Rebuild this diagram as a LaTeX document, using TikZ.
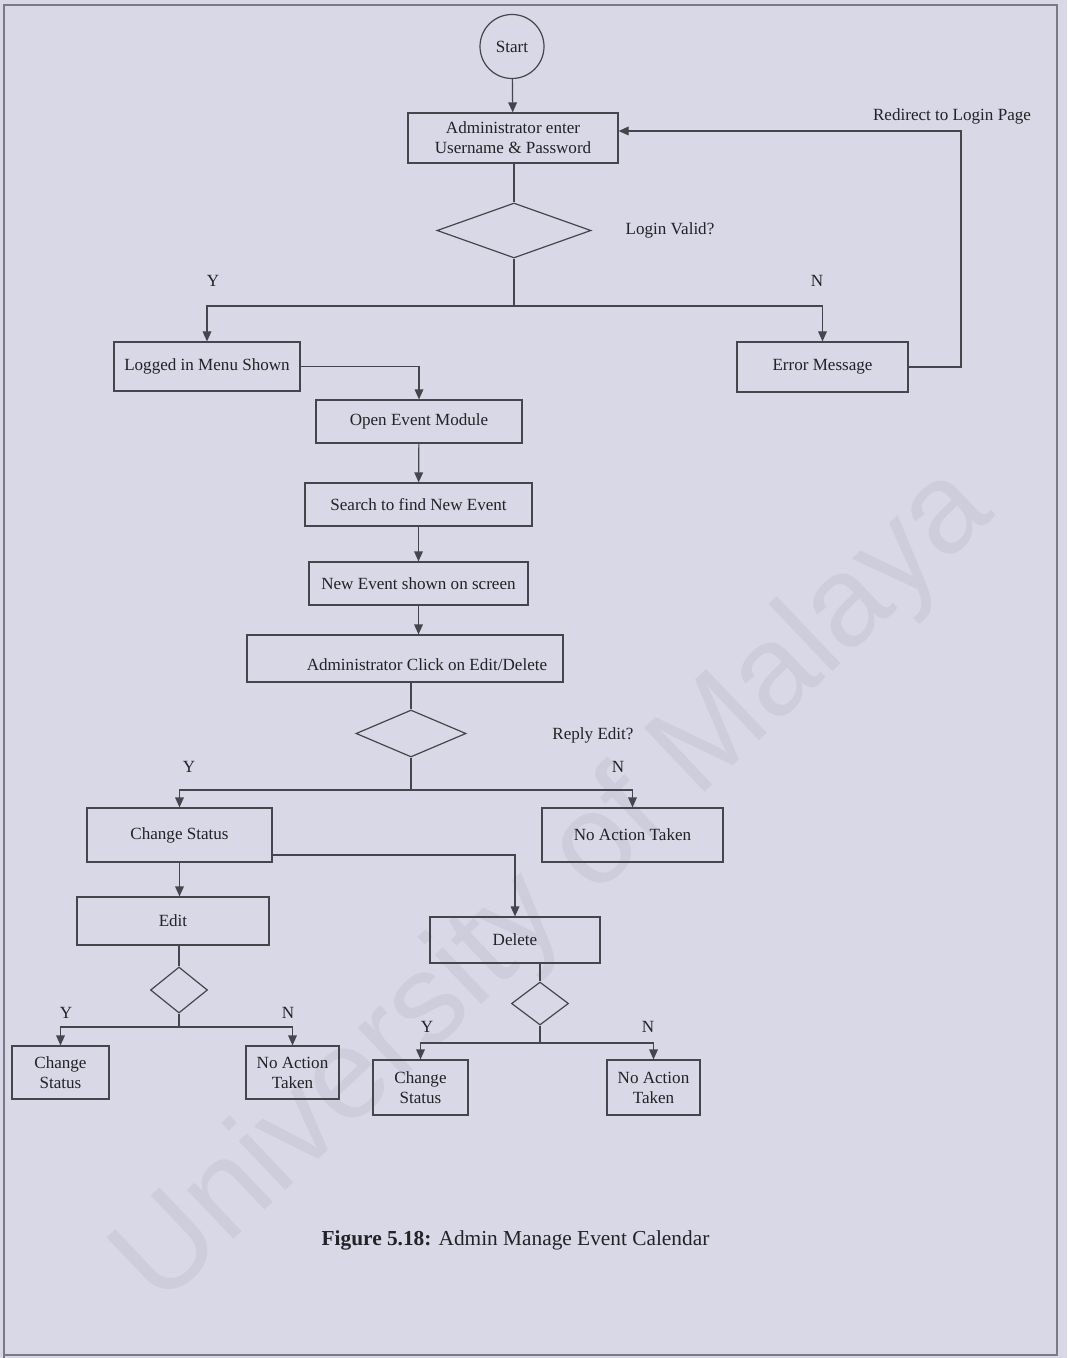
\documentclass[tikz,border=0pt]{standalone}
\usepackage{fontspec}
\setmainfont{Liberation Serif}
\newfontfamily\wmfont{Liberation Sans}
\usetikzlibrary{shapes.geometric,arrows.meta}
\definecolor{bgc}{HTML}{D8D8E6}
\definecolor{linec}{HTML}{45454D}
\definecolor{txtc}{HTML}{222228}
\definecolor{wmc}{HTML}{CDCDDB}
\definecolor{framec}{HTML}{7A7A86}
\tikzset{
  lbl/.style={font=\fontsize{12.8}{15}\selectfont, text=txtc, inner sep=0pt, align=center},
  bx/.style 2 args={draw=linec, line width=0.9pt, rectangle, inner sep=0pt,
     minimum width=#1*0.75pt, minimum height=#2*0.75pt,
     font=\fontsize{12.8}{15}\selectfont, text=txtc, align=center},
  dm/.style 2 args={draw=linec, line width=0.9pt, diamond, inner sep=0pt,
     minimum width=#1*0.75pt, minimum height=#2*0.75pt},
  ln/.style={draw=linec, line width=0.9pt},
  arr/.style={ln, -{Triangle[length=7.5pt,width=6.5pt]}},
}
\begin{document}
\begin{tikzpicture}[x=0.75pt,y=-0.75pt]
\useasboundingbox (0,0) rectangle (1067,1358);
\fill[bgc] (0,0) rectangle (1067,1358);
% frame
\draw[framec, line width=0.9pt] (4,1358) -- (4,5) -- (1057,5) -- (1057,1355) -- (4,1355);
% watermark
\node[font=\wmfont\fontsize{96}{96}\selectfont, text=wmc, rotate=43.5, inner sep=0pt] (wm) at (556,888) {University of Malaya};

% nodes
\node[draw=linec, line width=0.9pt, circle, minimum size=64*0.75pt, inner sep=0pt,
      font=\fontsize{12.8}{15}\selectfont, text=txtc] (start) at (512,46.5) {Start};
\node[bx={210}{50}] (admin) at (513,138) {Administrator enter\\Username \& Password};
\node[dm={154}{55}] (d1) at (514,230.5) {};
\node[lbl] (lv) at (670,230) {Login Valid?};
\node[lbl] (y1) at (213,281) {Y};
\node[lbl] (n1) at (817,281) {N};
\node[bx={186}{49}] (logged) at (207,366.5) {Logged in Menu Shown};
\node[bx={171}{50}] (err) at (822.5,367) {Error Message};
\node[lbl] (redir) at (952,116) {Redirect to Login Page};
\node[bx={206}{43}] (open) at (419,421.5) {Open Event Module};
\node[bx={227}{43}] (search) at (418.5,504.5) {Search to find New Event};
\node[bx={219}{43}] (newev) at (418.5,583.5) {New Event shown on screen};
\node[bx={316}{47}] (click) at (405,658.5) {};
\node[lbl] (clicktxt) at (427,665) {Administrator Click on Edit/Delete};
\node[dm={110}{47}] (d2) at (411,733.5) {};
\node[lbl] (re) at (593,735) {Reply Edit?};
\node[lbl] (y2) at (189,767) {Y};
\node[lbl] (n2) at (618,767) {N};
\node[bx={185}{54}] (cs) at (179.5,835) {Change Status};
\node[bx={181}{54}] (na) at (632.5,835) {No Action Taken};
\node[bx={192}{48}] (edit) at (173,921) {Edit};
\node[bx={170}{46}] (del) at (515,940) {Delete};
\node[dm={57}{46}] (sd1) at (179,990) {};
\node[dm={57}{43}] (sd2) at (540,1003.5) {};
\node[lbl] (y3) at (66,1013) {Y};
\node[lbl] (n3) at (288,1013) {N};
\node[lbl] (y4) at (427,1027) {Y};
\node[lbl] (n4) at (648,1027) {N};
\node[bx={97}{53}] (cs1) at (60.5,1072.5) {Change\\Status};
\node[bx={93}{53}] (na1) at (292.5,1072.5) {No Action\\Taken};
\node[bx={95}{55}] (cs2) at (420.5,1087.5) {Change\\Status};
\node[bx={93}{55}] (na2) at (653.5,1087.5) {No Action\\Taken};
\node[font=\fontsize{16}{19}\selectfont, text=txtc, inner sep=0pt] (cap) at (515.5,1240)
  {\textbf{Figure 5.18:} Admin Manage Event Calendar};

% junction coordinates
\coordinate (j1) at (514,306);
\coordinate (rc) at (961,131);
\coordinate (j2) at (411,790);
\coordinate (csd) at (272,855);
\coordinate (j3) at (179,1027);
\coordinate (j4) at (540,1043);

% connectors
\draw[arr] (start) -- (admin);
\draw[ln] (admin.south -| d1.north) -- (d1.north);
\draw[ln] (d1.south) -- (j1);
\draw[arr] (j1) -| (logged.north);
\draw[arr] (j1) -| (err.north);
\draw[arr] (err.east) -| (rc) -- (admin.east |- rc);
\draw[arr] (logged.east) -| (open.north);
\draw[arr] (open) -- (search);
\draw[arr] (search) -- (newev);
\draw[arr] (newev.south) -- (newev.south |- click.north);
\draw[ln] (d2.north |- click.south) -- (d2.north);
\draw[ln] (d2.south) -- (j2);
\draw[arr] (j2) -| (cs.north);
\draw[arr] (j2) -| (na.north);
\draw[arr] (cs.south) -- (cs.south |- edit.north);
\draw[arr] (csd) -| (del.north);
\draw[ln] (sd1.north |- edit.south) -- (sd1.north);
\draw[ln] (sd1.south) -- (j3);
\draw[arr] (j3) -| (cs1.north);
\draw[arr] (j3) -| (na1.north);
\draw[ln] (sd2.north |- del.south) -- (sd2.north);
\draw[ln] (sd2.south) -- (j4);
\draw[arr] (j4) -| (cs2.north);
\draw[arr] (j4) -| (na2.north);
\end{tikzpicture}
\end{document}
